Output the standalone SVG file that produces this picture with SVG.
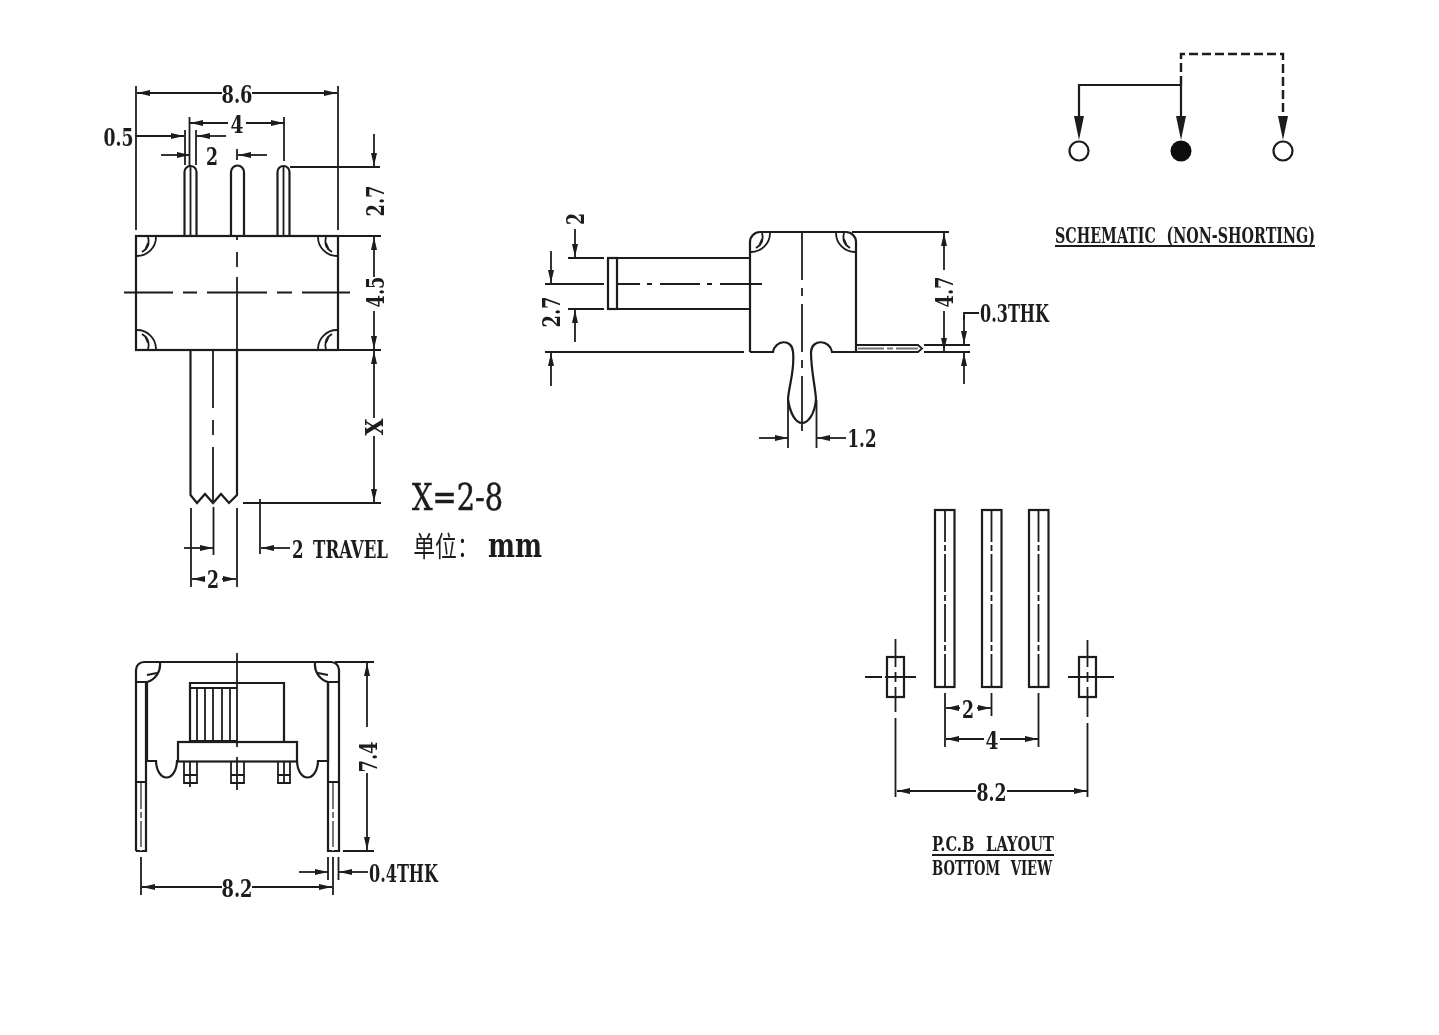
<svg xmlns="http://www.w3.org/2000/svg" width="1439" height="1035" viewBox="0 0 1439 1035">
<style>
text{font-family:"DejaVu Serif","Liberation Serif",serif;font-stretch:condensed;font-weight:700;fill:#1c1c1c;font-size:25px;text-anchor:middle}
.s{fill:none;stroke:#1c1c1c;stroke-width:2.2}
.d{fill:none;stroke:#1c1c1c;stroke-width:1.8}
.a{fill:none;stroke:#1c1c1c;stroke-width:1.8;marker-end:url(#ar)}
.c{fill:none;stroke:#1c1c1c;stroke-width:1.8;stroke-dasharray:38 3 6 3}
.h{fill:none;stroke:#777;stroke-width:2;stroke-dasharray:26 3 6 3}
.m{font-size:20px;word-spacing:8px}
</style>
<defs>
<filter id="soft" filterUnits="userSpaceOnUse" x="0" y="0" width="1439" height="1035"><feGaussianBlur stdDeviation="0.35"/></filter>
<marker id="ar" viewBox="0 0 13 6" refX="13" refY="3" markerWidth="13" markerHeight="6" markerUnits="userSpaceOnUse" orient="auto"><path d="M0 0L13 3L0 6z" fill="#1c1c1c"/></marker>
<path id="cn" class="d" d="M20 1A19 19 0 0 1 1 20M12 1Q14 8 10 13L6 16M12 7L9 14"/>
</defs>
<rect width="1439" height="1035" fill="#fff"/>
<g filter="url(#soft)">
<g id="top-view">
<rect class="s" x="136" y="236" width="202" height="114"/>
<path class="s" d="M184.500 236V172a6 6 0 0 1 12 0V236M231 236V172a6.500 6.500 0 0 1 13 0V236M277.500 236V172a6 6 0 0 1 12 0V236"/>
<path class="d" d="M190.500 167V236M283.500 167V236"/>
<use href="#cn" transform="translate(136 236)"/>
<use href="#cn" transform="translate(338 236) scale(-1 1)"/>
<use href="#cn" transform="translate(136 350) scale(1 -1)"/>
<use href="#cn" transform="translate(338 350) scale(-1 -1)"/>
<path class="d" d="M124 292.500H173M183 292.500H197M207 292.500H267M277 292.500H292M302 292.500H350M237 236V240M237 252V267M237 277V350"/>
<path class="s" d="M190.500 350V495L197 503L205 494L213 503L221 494L229 503L237 495V350"/>
<path class="d" d="M213 350V408M213 420V435M213 447V503"/>
</g>
<g id="side-view">
<path class="s" d="M750 352V242a10 10 0 0 1 10-10H846a10 10 0 0 1 10 10V352M750 352H773C775 340 792 338 793 352C795 370 789 385 788 399C790 414 796 423 802 423C808 423 815 414 816 399C815 385 811 370 811 352C812 338 830 340 832 352H856"/>
<use href="#cn" transform="translate(750 232)"/>
<use href="#cn" transform="translate(856 232) scale(-1 1)"/>
<rect class="s" x="608" y="258" width="9" height="51"/>
<path class="s" d="M617 258H750M617 309H750"/>
<path class="d" d="M617 284H640M647 284H652M660 284H700M707 284H712M720 284H762M802 232V280M802 288V296M802 304V352M802 360V368M802 376V431"/>
<path class="d" d="M856 345H918L922 348.500L918 352H856"/>
<path class="h" d="M858 348.500H918"/>
</g>
<g id="front-view">
<path class="s" d="M136 851V670a8 8 0 0 1 8-8H331a8 8 0 0 1 8 8V851H328V682H339M136 851H146V682H136M136 782H146M328 782H339"/>
<path class="s" d="M160 663A18 18 0 0 1 147 682M147 675L157 673M315 663A18 18 0 0 0 328 682M328 675L318 673"/>
<path class="s" d="M147 682V761H156C157 783 176 783 177 761H178M328 682V761H318C317 783 298 783 297 761"/>
<rect class="s" x="178" y="742" width="119" height="19.500"/>
<path class="s" d="M190 742V683H284V742"/>
<path class="d" d="M190 688H237M197 688V742M205 688V742M213 688V742M222 688V742M230 688V742M237 653V747M237 757V790"/>
<path class="s" d="M190 741H237"/>
<path class="d" d="M184 762V783H197V762M231 762V783H244V762M278 762V783H290V762M184 775H197M231 775H244M278 775H290M190 762V787M284 762V783"/>
<path class="h" d="M141 783V851M333 783V851"/>
</g>
<g id="pcb-layout">
<rect class="s" x="935" y="510" width="19.500" height="177"/>
<rect class="s" x="982" y="510" width="19.500" height="177"/>
<rect class="s" x="1029" y="510" width="19.500" height="177"/>
<path class="c" stroke-dashoffset="6" d="M945 510V687M991.500 510V687M1038.500 510V687"/>
<rect class="s" x="887" y="657" width="17" height="40"/>
<rect class="s" x="1079" y="657" width="17" height="40"/>
<path class="d" d="M865 677H882M885 677H916M895.500 639V667M895.500 672V682M895.500 687V712M1068 677H1114M1087.500 640V667M1087.500 672V682M1087.500 687V717"/>
</g>
<g id="schematic">
<path class="s" d="M1079 129V85H1181V129"/>
<path class="s" stroke-dasharray="9 4" style="stroke-width:2.4" d="M1181 85V54H1283V129"/>
<path d="M1074 116H1084L1079 140zM1176 116H1186L1181 140zM1278 116H1288L1283 140z" fill="#1c1c1c"/>
<circle class="s" cx="1079" cy="151" r="9.500" style="fill:#fff"/>
<circle cx="1181" cy="151" r="10.500" fill="#111"/>
<circle class="s" cx="1283" cy="151" r="9.500" style="fill:#fff"/>
<path class="s" d="M1055 246H1315"/>
<text class="m" style="font-size:22px" x="1185" y="243" textLength="260" lengthAdjust="spacingAndGlyphs">SCHEMATIC (NON-SHORTING)</text>
</g>
<g id="connectors">
<path class="d" d="M136 86V230M338 86V230M189.500 117V166M284 117V161M185 130V165M196 130V165M237 149V160M290 167H380M338 236H381M338 350H381M243 503H381"/>
<line class="a" x1="222" y1="93" x2="137" y2="93"/><line class="a" x1="252" y1="93" x2="337" y2="93"/>
<line class="a" x1="228" y1="123" x2="190" y2="123"/><line class="a" x1="246" y1="123" x2="284" y2="123"/>
<line class="a" x1="135" y1="136" x2="184" y2="136"/><line class="a" x1="226" y1="136" x2="197" y2="136"/>
<line class="a" x1="161" y1="155" x2="190" y2="155"/><line class="a" x1="267" y1="155" x2="238" y2="155"/>
<line class="a" x1="374" y1="134" x2="374" y2="166"/>
<line class="a" x1="374" y1="277" x2="374" y2="237"/><line class="a" x1="374" y1="311" x2="374" y2="349"/>
<line class="a" x1="374" y1="418" x2="374" y2="351"/><line class="a" x1="374" y1="436" x2="374" y2="502"/>
<path class="d" d="M191 508V587M213.500 507V555M237 508V587M260 499V554"/>
<line class="a" x1="184" y1="548" x2="213" y2="548"/>
<line class="a" x1="205" y1="579" x2="192" y2="579"/><line class="a" x1="222" y1="579" x2="236" y2="579"/>
<line class="a" x1="290" y1="548" x2="261" y2="548"/>
<path class="d" d="M568 258H604M568 309H604M545 284H604M545 352H744M852 232H949M924 345H970M924 352H970"/>
<line class="a" x1="575" y1="229" x2="575" y2="257"/><line class="a" x1="575" y1="342" x2="575" y2="310"/>
<line class="a" x1="551" y1="251" x2="551" y2="283"/><line class="a" x1="551" y1="386" x2="551" y2="353"/>
<line class="a" x1="944" y1="270" x2="944" y2="233"/><line class="a" x1="944" y1="311" x2="944" y2="351"/>
<path class="d" d="M979 313H964V320"/>
<line class="a" x1="964" y1="315" x2="964" y2="344"/><line class="a" x1="964" y1="384" x2="964" y2="353"/>
<path class="d" d="M788 400V448M816.500 400V448"/>
<line class="a" x1="759" y1="438" x2="788" y2="438"/><line class="a" x1="846" y1="438" x2="817" y2="438"/>
<path class="d" d="M335 662H374M343 851H374M141 857V895M333 857V895M328 857V880M338.500 857V880"/>
<line class="a" x1="367" y1="727" x2="367" y2="663"/><line class="a" x1="367" y1="773" x2="367" y2="850"/>
<line class="a" x1="222" y1="887" x2="142" y2="887"/><line class="a" x1="252" y1="887" x2="332" y2="887"/>
<line class="a" x1="299" y1="872" x2="328" y2="872"/><line class="a" x1="368" y1="872" x2="339" y2="872"/>
<path class="d" d="M945 693V747M991.500 693V716M1038.500 693V747M895.500 718V797M1087.500 723V797"/>
<line class="a" x1="960" y1="708" x2="946" y2="708"/><line class="a" x1="977" y1="708" x2="991" y2="708"/>
<line class="a" x1="984" y1="739" x2="946" y2="739"/><line class="a" x1="1000" y1="739" x2="1038" y2="739"/>
<line class="a" x1="976" y1="791" x2="897" y2="791"/><line class="a" x1="1007" y1="791" x2="1087" y2="791"/>
</g>
<g id="labels">
<text x="237" y="103" textLength="31" lengthAdjust="spacingAndGlyphs">8.6</text>
<text x="237" y="133" textLength="13" lengthAdjust="spacingAndGlyphs">4</text>
<text x="118.500" y="146" textLength="30" lengthAdjust="spacingAndGlyphs">0.5</text>
<text x="212" y="165" textLength="12" lengthAdjust="spacingAndGlyphs">2</text>
<text transform="translate(384 201) rotate(-90)" textLength="31" lengthAdjust="spacingAndGlyphs">2.7</text>
<text transform="translate(384 292) rotate(-90)" textLength="31" lengthAdjust="spacingAndGlyphs">4.5</text>
<text transform="translate(383 427) rotate(-90)" textLength="17" lengthAdjust="spacingAndGlyphs">X</text>
<text x="213" y="588" textLength="12" lengthAdjust="spacingAndGlyphs">2</text>
<text x="340" y="558" textLength="96" lengthAdjust="spacingAndGlyphs" style="word-spacing:5px">2 TRAVEL</text>
<text x="457.500" y="510" textLength="91" lengthAdjust="spacingAndGlyphs" style="font-size:37px;font-weight:400;stroke:#1c1c1c;stroke-width:.5">X=2-8</text>
<text transform="translate(446 557) scale(.78 1)" style="font-family:'Noto Sans CJK SC',sans-serif;font-size:28px;font-weight:400">单位：</text>
<text x="515" y="557" textLength="54" lengthAdjust="spacingAndGlyphs" style="font-size:34px">mm</text>
<text transform="translate(584 219) rotate(-90)" textLength="12" lengthAdjust="spacingAndGlyphs">2</text>
<text transform="translate(560 312) rotate(-90)" textLength="31" lengthAdjust="spacingAndGlyphs">2.7</text>
<text transform="translate(953 292) rotate(-90)" textLength="31" lengthAdjust="spacingAndGlyphs">4.7</text>
<text x="1014.500" y="322" textLength="69" lengthAdjust="spacingAndGlyphs">0.3THK</text>
<text x="862" y="447" textLength="29" lengthAdjust="spacingAndGlyphs">1.2</text>
<text transform="translate(377 757) rotate(-90)" textLength="31" lengthAdjust="spacingAndGlyphs">7.4</text>
<text x="237" y="897" textLength="31" lengthAdjust="spacingAndGlyphs">8.2</text>
<text x="403.500" y="882" textLength="69" lengthAdjust="spacingAndGlyphs">0.4THK</text>
<text x="968" y="718" textLength="12" lengthAdjust="spacingAndGlyphs">2</text>
<text x="992" y="749" textLength="13" lengthAdjust="spacingAndGlyphs">4</text>
<text x="991.500" y="801" textLength="30" lengthAdjust="spacingAndGlyphs">8.2</text>
<text class="m" x="993" y="851" textLength="122" lengthAdjust="spacingAndGlyphs">P.C.B LAYOUT</text>
<path class="s" d="M932 855H1054"/>
<text class="m" x="992" y="875" textLength="120" lengthAdjust="spacingAndGlyphs">BOTTOM VIEW</text>
</g>
</g>
</svg>
